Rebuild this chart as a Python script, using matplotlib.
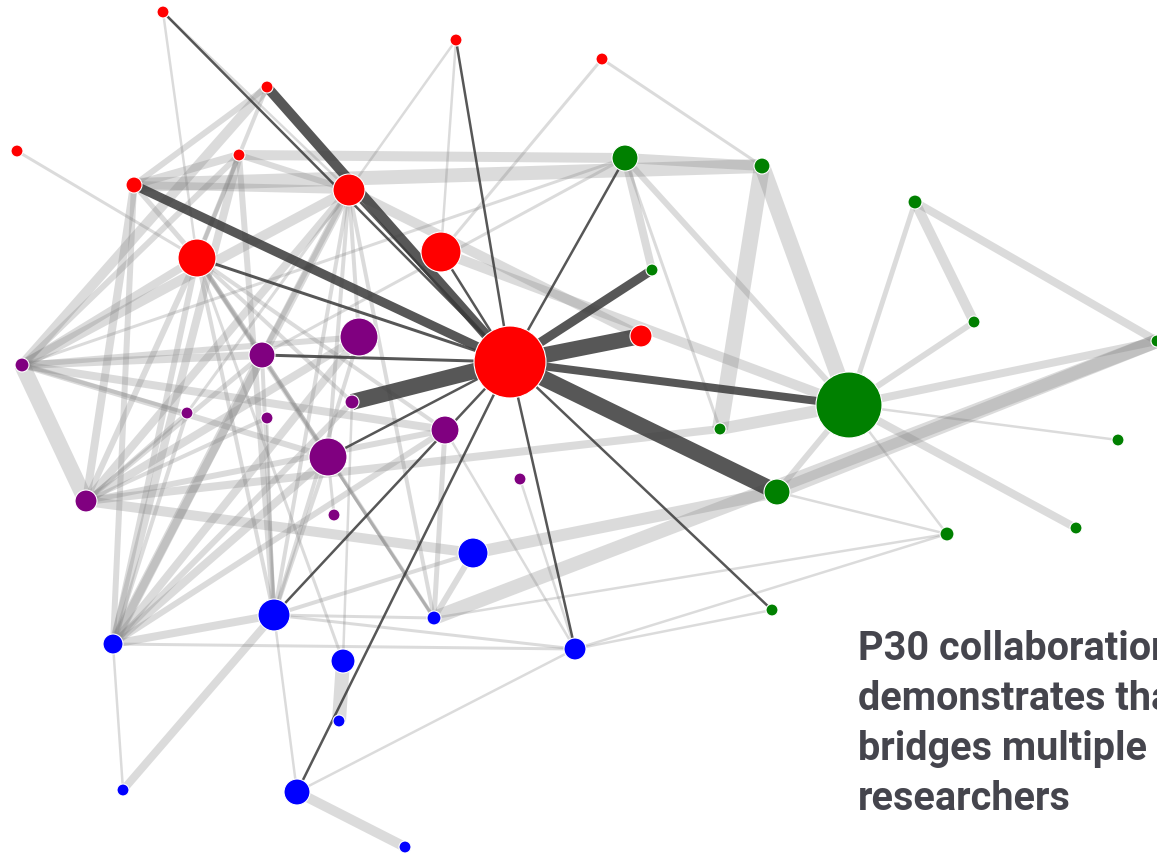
import matplotlib
matplotlib.use("Agg")
import matplotlib.pyplot as plt
import numpy as np

# nodes: pixel position in the layout, radius, group
node_x = [510, 163, 456, 602, 267, 17, 239, 134, 349, 197, 441, 641,
          625, 762, 915, 652, 974, 1157, 849, 720, 1118, 777, 1076, 947, 772,
          22, 262, 359, 187, 267, 352, 445, 328, 86, 520, 334,
          473, 274, 434, 113, 575, 343, 339, 123, 297, 405]
node_y = [362, 12, 40, 59, 87, 151, 155, 185, 190, 258, 252, 336,
          158, 166, 202, 270, 322, 341, 405, 429, 440, 492, 528, 534, 610,
          365, 355, 337, 413, 418, 402, 430, 457, 501, 479, 515,
          553, 615, 618, 644, 649, 661, 721, 790, 792, 847]
node_r = [36, 6, 6, 6, 6, 6, 6, 8, 16, 19, 20, 11,
          13, 8, 7, 6, 6, 6, 33, 6, 6, 13, 6, 7, 6,
          7, 13, 19, 6, 6, 7, 14, 19, 11, 6, 6,
          15, 16, 7, 10, 11, 12, 6, 6, 13, 6]
node_group = (["red"] * 12 + ["green"] * 13 + ["purple"] * 11 + ["blue"] * 10)

group_colors = {"red": "#ff0000", "green": "#008000",
                "purple": "#800080", "blue": "#0000ff"}

# strong ties of the P30 core (node 0), width in px
hub_targets = [1, 4, 2, 7, 9, 8, 10, 12, 15, 11, 26, 30, 32, 37, 44, 40, 24, 18, 21]
hub_widths = [2.5, 10, 2.5, 9, 3, 2.5, 2.5, 2.5, 9, 16, 3, 16, 2.5, 2.5, 2.5, 2.5, 2.5, 8, 16]

# other collaborations: (node a, node b, width px)
light_a = [12, 13, 13, 12, 12, 12, 3, 3, 14, 14, 14, 16, 17, 17, 18, 18, 18, 18, 18,
           21, 23, 23, 24, 38, 36, 33, 7, 6,
           1, 1, 5, 4, 6, 6, 6, 6, 7, 7, 7, 7, 9, 9, 9, 9, 9, 9, 9, 9, 9,
           8, 8, 8, 8, 8, 8, 8, 8, 25, 25, 25, 25, 25, 33, 33, 33, 33,
           39, 39, 39, 39, 39, 39, 39, 37, 37, 37, 37, 37, 37, 37, 37,
           41, 41, 44, 44, 38, 38, 38, 31, 12, 12, 8, 2, 2, 10, 28, 28, 29, 35, 34,
           6, 6, 4, 4, 26, 30, 28, 29, 8, 9]
light_b = [13, 18, 19, 18, 15, 19, 13, 10, 18, 16, 17, 18, 18, 21, 20, 22, 21, 19, 23,
           23, 38, 40, 40, 17, 21, 19, 13, 12,
           9, 8, 9, 25, 7, 8, 9, 25, 33, 39, 8, 9, 25, 33, 39, 32, 31, 30, 26, 37, 38,
           25, 33, 39, 37, 27, 32, 26, 28, 33, 26, 27, 31, 32, 27, 31, 26, 36,
           26, 27, 32, 37, 40, 31, 43, 43, 44, 26, 32, 27, 38, 40, 36,
           42, 30, 45, 40, 31, 32, 36, 40, 25, 26, 11, 8, 10, 18, 25, 33, 37, 32, 40,
           39, 37, 7, 9, 38, 39, 39, 33, 38, 41]
light_w = [10, 16, 16, 6, 8, 3, 3, 3, 5, 10, 8, 6, 8, 14, 2.5, 8, 6, 12, 2.5,
           2.5, 2.5, 2.5, 2.5, 14, 12, 8, 14, 10,
           2.5, 2.5, 3, 10, 8, 6, 5, 6, 8, 6, 8, 5, 8, 6, 6, 5, 4, 4, 5, 4, 3,
           10, 8, 8, 4, 4, 4, 5, 3, 16, 8, 6, 8, 6, 8, 6, 5, 10,
           10, 8, 8, 8, 3, 6, 2.5, 8, 2.5, 4, 4, 4, 3, 3, 4,
           14, 2.5, 10, 2.5, 5, 3, 6, 2.5, 3, 3, 10, 2.5, 2.5, 10, 4, 4, 2.5, 3, 2.5,
           8, 6, 6, 4, 4, 6, 4, 4, 4, 3]

note_lines = ["P30 collaboration", "demonstrates that",
              "bridges multiple", "researchers"]

PX = 72 / 100  # points per pixel at dpi 100

fig = plt.figure(figsize=(11.57, 8.56), dpi=100)
ax = fig.add_axes([0, 0, 1, 1])
ax.set_xlim(0, 1157)
ax.set_ylim(856, 0)
ax.axis("off")

for a, b, w in zip(light_a, light_b, light_w):
    ax.plot([node_x[a], node_x[b]], [node_y[a], node_y[b]], color="#808080",
            alpha=0.28, lw=w * PX, solid_capstyle="butt", zorder=1)

for t, w in zip(hub_targets, hub_widths):
    ax.plot([node_x[0], node_x[t]], [node_y[0], node_y[t]], color="#3a3a3a",
            alpha=0.85, lw=w * PX, solid_capstyle="butt", zorder=2)

sizes = [(2 * r * PX) ** 2 for r in node_r]
colors = [group_colors[g] for g in node_group]
ax.scatter(node_x, node_y, s=sizes, c=colors, edgecolors="white",
           linewidths=0.8, zorder=3)

for i, line in enumerate(note_lines):
    ax.text(858, 660 + 50 * i, line, fontsize=28.5, family="Roboto",
            fontweight="bold", color="#45454d", va="baseline", ha="left",
            zorder=4)

fig.savefig("out.png", dpi=100)
